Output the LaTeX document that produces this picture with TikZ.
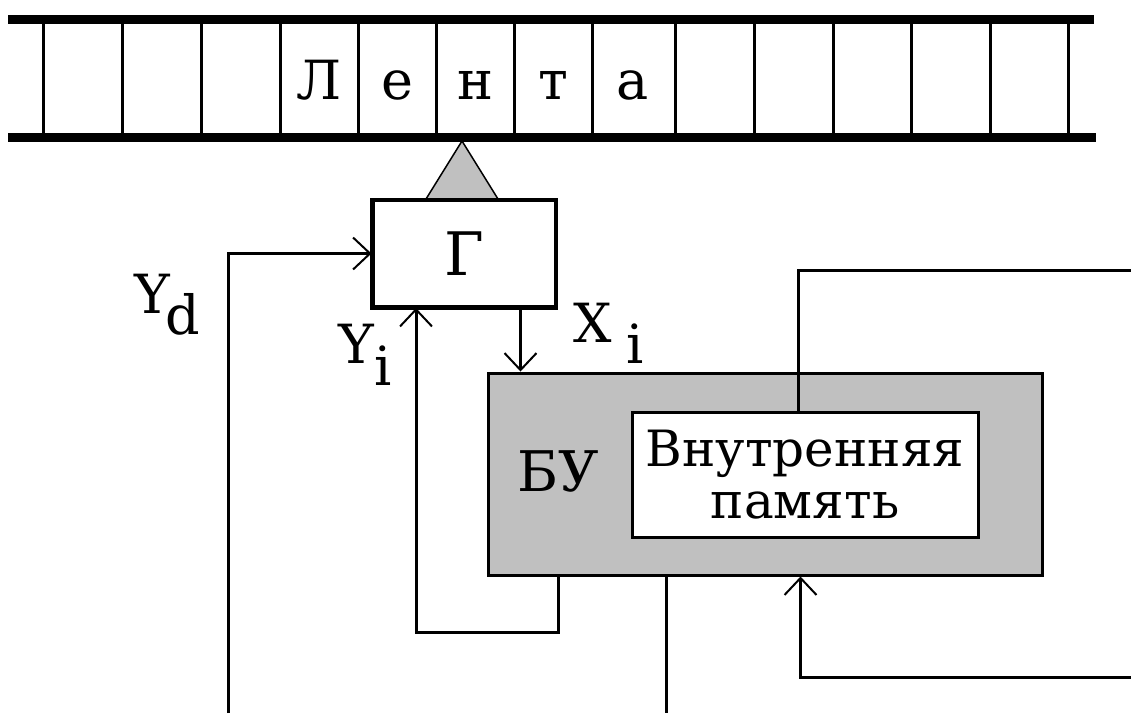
\documentclass[tikz,border=0pt]{standalone}
\usepackage{fontspec}
\setmainfont{DejaVu Serif}
\usetikzlibrary{arrows.meta,calc}
\definecolor{fillgray}{HTML}{C0C0C0}
\begin{document}
\begin{tikzpicture}[x=1pt,y=-1pt,
  box/.style={draw,line width=3pt,inner sep=0pt},
  wire/.style={line width=3pt},
  arr/.style={wire,-{Straight Barb[length=17pt,width=32pt,line width=2pt]}},
  lab/.style={font=\fontsize{54}{60}\selectfont,inner sep=0pt,anchor=base west},
  tapech/.style={font=\fontsize{54}{60}\selectfont,inner sep=0pt,anchor=base},
  cellline/.style={line width=3pt},
  bar/.style={line width=9pt}
]
\useasboundingbox (0,0) rectangle (1131,713);

% tape
\foreach \x in {43,122,201,280,358,436,514,592,675,754,833,911,990,1068}
  \draw[cellline] (\x,24) -- (\x,133);
\draw[bar] (8,19.5) -- (1094,19.5);
\draw[bar] (8,137.5) -- (1096,137.5);
\node[tapech] (t1) at (319,99) {Л};
\node[tapech] (t2) at (397,99) {е};
\node[tapech] (t3) at (475,99) {н};
\node[tapech] (t4) at (553,99) {т};
\node[tapech] (t5) at (633,99) {а};

% head box
\node[box,minimum width=182pt,minimum height=106pt,font=\fontsize{60}{60}\selectfont] (G) at (464,253.5) {Г};
\draw[line width=1.5pt,fill=fillgray] ($(G.north)+(-2,-58)$) -- ($(G.north)+(-38,0)$) -- ($(G.north)+(34,0)$) -- cycle;
\draw[line width=3pt] (G.north west) rectangle (G.south east);

% control block
\node[box,fill=fillgray,minimum width=554pt,minimum height=202pt] (BU) at (765,474) {};
\node[font=\fontsize{56}{60}\selectfont,inner sep=0pt,anchor=base] (bu) at (558,491) {БУ};
\node[box,fill=white,minimum width=346pt,minimum height=125pt,align=center,
      font=\fontsize{50}{52}\selectfont] (mem) at (805,474.5) {Внутренняя\\память};

% labels
\node[lab] (yd) at (134,313) {Y\kern-4pt\raisebox{-21pt}{d}};
\node[lab] (yi) at (338,363) {Y\kern1pt\raisebox{-22pt}{i}};
\node[lab] (xi) at (573,342) {X\kern15pt\raisebox{-21pt}{i}};

% coordinates
\coordinate (ydS) at (228,713);
\coordinate (yiL) at (416,632);
\coordinate (xiS) at ([xshift=149pt]G.south west);
\coordinate (mR) at (1131,270);
\coordinate (outS) at (666,713);
\coordinate (inR) at (1131,677);

% connectors
\draw[arr] (ydS) |- (G.west);
\draw[arr] ([xshift=72pt]BU.south west) |- (yiL) -- (yiL |- G.south);
\draw[arr] (xiS) -- (xiS |- BU.north);
\draw[wire] ([xshift=168pt]mem.north west) |- (mR);
\draw[wire] (outS |- BU.south) -- (outS);
\draw[arr] (inR) -| ([xshift=314pt]BU.south west);
\end{tikzpicture}
\end{document}
